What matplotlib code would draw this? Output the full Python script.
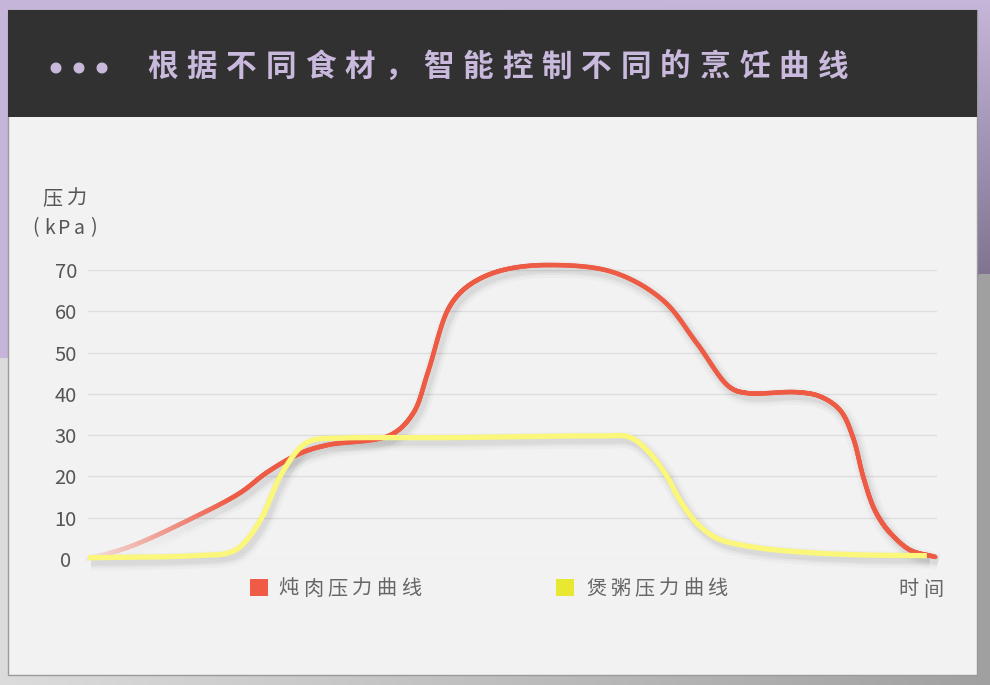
import numpy as np
import matplotlib
matplotlib.use("Agg")
import matplotlib.pyplot as plt
from matplotlib.patches import Rectangle, Circle
from matplotlib.collections import LineCollection
from matplotlib.transforms import ScaledTranslation

plt.rcParams['font.family'] = ['Noto Sans CJK SC', 'DejaVu Sans']

W, H = 990, 685

title = "根据不同食材，智能控制不同的烹饪曲线"
y_label = "压力"
y_unit = "(kPa)"
x_label = "时间"
series_names = ["炖肉压力曲线", "煲粥压力曲线"]
y_ticks = [0, 10, 20, 30, 40, 50, 60, 70]

# stewing curve (time in arbitrary units 0-100, pressure kPa)
stew_t = [0, 4.95, 12.4, 17.9, 21.1, 25.0, 28.2, 35.6, 38.3, 40.0,
          42.3, 43.8, 45.8, 48.9, 54.1, 61.8, 67.7, 71.7, 75.6, 77.6, 83.5,
          86.2, 88.6, 90.1, 91.3, 92.5, 93.5, 94.5, 96.8, 99.8]
stew_p = [0, 3, 10, 16, 21, 25.6, 27.6, 30, 35.3, 45,
          60, 64.4, 67.5, 70, 71.2, 69.5, 62.7, 52.3, 41.6, 40.2, 40.4,
          39.4, 36, 29.5, 20, 12.6, 8.9, 6.3, 2.2, 0.5]
# porridge curve
porr_t = [0, 8.5, 12.5, 16.4, 17.9, 20.3, 22.6, 25.0, 26.5, 29.7, 42.6, 60.3, 63.8,
          66.2, 68.2, 69.7, 71.7, 74.1, 78.0, 83.9, 90.9, 98.8]
porr_p = [0.3, 0.5, 0.8, 1.4, 2.9, 9.4, 19.9, 27, 28.8, 29.3, 29.4, 29.8, 29.5,
          25.6, 20, 14.3, 8.7, 5, 3, 1.7, 1.0, 0.8]

red = np.array([0xee, 0x5b, 0x45]) / 255
yellow = '#fbf77a'
bg = np.array([0xf2, 0xf2, 0xf2]) / 255
sx_px, sy_px = 8.49, 4.13   # screen pixels per data unit


def smooth(x, y, n=30, alpha=0.5):
    # centripetal catmull-rom through the read points (screen space), only for drawing
    p = np.column_stack([np.asarray(x) * sx_px, np.asarray(y) * sy_px]).astype(float)
    p = np.vstack([2 * p[0] - p[1], p, 2 * p[-1] - p[-2]])
    s = np.linspace(0, 1, n, endpoint=False)[:, None]
    out = []
    for i in range(1, len(p) - 2):
        P0, P1, P2, P3 = p[i - 1], p[i], p[i + 1], p[i + 2]
        t1 = np.linalg.norm(P1 - P0) ** alpha
        t2 = t1 + np.linalg.norm(P2 - P1) ** alpha
        t3 = t2 + np.linalg.norm(P3 - P2) ** alpha
        d = t2 - t1
        m1 = d * ((P1 - P0) / t1 - (P2 - P0) / t2 + (P2 - P1) / d)
        m2 = d * ((P2 - P1) / d - (P3 - P1) / (t3 - t1) + (P3 - P2) / (t3 - t2))
        b1 = P1 + m1 / 3
        b2 = P2 - m2 / 3
        out.append((1 - s)**3 * P1 + 3 * (1 - s)**2 * s * b1
                   + 3 * (1 - s) * s**2 * b2 + s**3 * P2)
    out.append(p[-2][None, :])
    out = np.vstack(out)
    return out[:, 0] / sx_px, out[:, 1] / sy_px


fig = plt.figure(figsize=(W / 100, H / 100), dpi=100)

# page background
yy, xx = np.mgrid[0:H, 0:W]
light = np.array([0xc6, 0xb7, 0xda]) / 255
dark = np.array([0x7a, 0x6d, 0x8b]) / 255
k = np.clip((xx / W) * (yy / 300), 0, 1)[..., None]
purple = light * (1 - k) + dark * k
g = (xx / W)[..., None]
gray = np.array([0xdc] * 3) / 255 * (1 - g) + np.array([0xa0] * 3) / 255 * g
boundary = 358 - 85 * xx / W
img = np.where((yy < boundary)[..., None], purple, gray)
bax = fig.add_axes([0, 0, 1, 1])
bax.imshow(img, extent=(0, W, H, 0), aspect='auto')
bax.set_xlim(0, W)
bax.set_ylim(H, 0)
bax.axis('off')

# card
bax.add_patch(Rectangle((8, 10), 969, 665, facecolor='#f2f2f2', edgecolor='#9a9a9a', lw=1))
bax.add_patch(Rectangle((8, 10), 969, 107, facecolor='#313131', edgecolor='none'))
for cx in (56, 79, 102):
    bax.add_patch(Circle((cx, 68), 4.8, color='#c8b8dc'))


def spaced(x, y, s, adv, **kw):
    for i, ch in enumerate(s):
        bax.text(x + i * adv, y, ch, ha='center', va='center', **kw)


spaced(162, 67, title, 39.5, fontsize=22, color='#c9b9dd', fontweight='bold')
spaced(52.5, 199, y_label, 24.5, fontsize=14.5, color='#555555')
spaced(35, 228, y_unit, 14.7, fontsize=14, color='#555555')
spaced(908.5, 590, x_label, 24.5, fontsize=14.5, color='#666666')

# legend
bax.add_patch(Rectangle((250, 579), 18, 17, facecolor='#ef5b45', edgecolor='none'))
spaced(288, 589, series_names[0], 24.6, fontsize=14.5, color='#666666')
bax.add_patch(Rectangle((556, 579), 18, 17, facecolor='#e8e832', edgecolor='none'))
spaced(596, 589, series_names[1], 24.2, fontsize=14.5, color='#666666')

# plot area
ax = fig.add_axes([88 / W, 1 - 559 / H, (937 - 88) / W, (559 - 270) / H])
ax.set_facecolor('none')
ax.set_xlim(0, 100)
ax.set_ylim(0, 70)
for sp in ax.spines.values():
    sp.set_visible(False)
ax.set_xticks([])
ax.set_yticks(y_ticks)
ax.tick_params(axis='y', length=0, pad=16, labelsize=14.5, labelcolor='#555555')
for lab in ax.get_yticklabels():
    lab.set_horizontalalignment('center')
ax.grid(axis='y', color='#dedede', lw=1)
ax.set_axisbelow(True)

shadow_tr = ax.transData + ScaledTranslation(0.03, -0.045, fig.dpi_scale_trans)


def shadow(x, y, fade=None):
    pts = np.column_stack([x, y])
    segs = np.stack([pts[:-1], pts[1:]], axis=1)
    f = np.ones(len(segs)) if fade is None else fade
    for lw, a in ((12, 0.022), (8, 0.03), (5, 0.045)):
        cols = np.zeros((len(segs), 4))
        cols[:, 3] = a * f
        ax.add_collection(LineCollection(segs, colors=cols, linewidths=lw,
                                         capstyle='butt', transform=shadow_tr,
                                         clip_on=False, zorder=2))


# stewing line with fade-in
sx, sy = smooth(stew_t, stew_p)
mid = (sx[:-1] + sx[1:]) / 2
a = np.clip(0.08 + 0.92 * (mid / 17), 0, 1)
shadow(sx, sy, a**2)
pts = np.column_stack([sx, sy])
segs = np.stack([pts[:-1], pts[1:]], axis=1)
cols = bg * (1 - a[:, None]) + red * a[:, None]
lc = LineCollection(segs, colors=cols, linewidths=3.3, capstyle='round',
                    joinstyle='round', zorder=3, clip_on=False)
ax.add_collection(lc)

# porridge line
px, py = smooth(porr_t, porr_p)
shadow(px, py)
ax.plot(px, py, color=yellow, lw=3.8, solid_capstyle='butt', zorder=4, clip_on=False)

fig.savefig('out.png', dpi=100)
